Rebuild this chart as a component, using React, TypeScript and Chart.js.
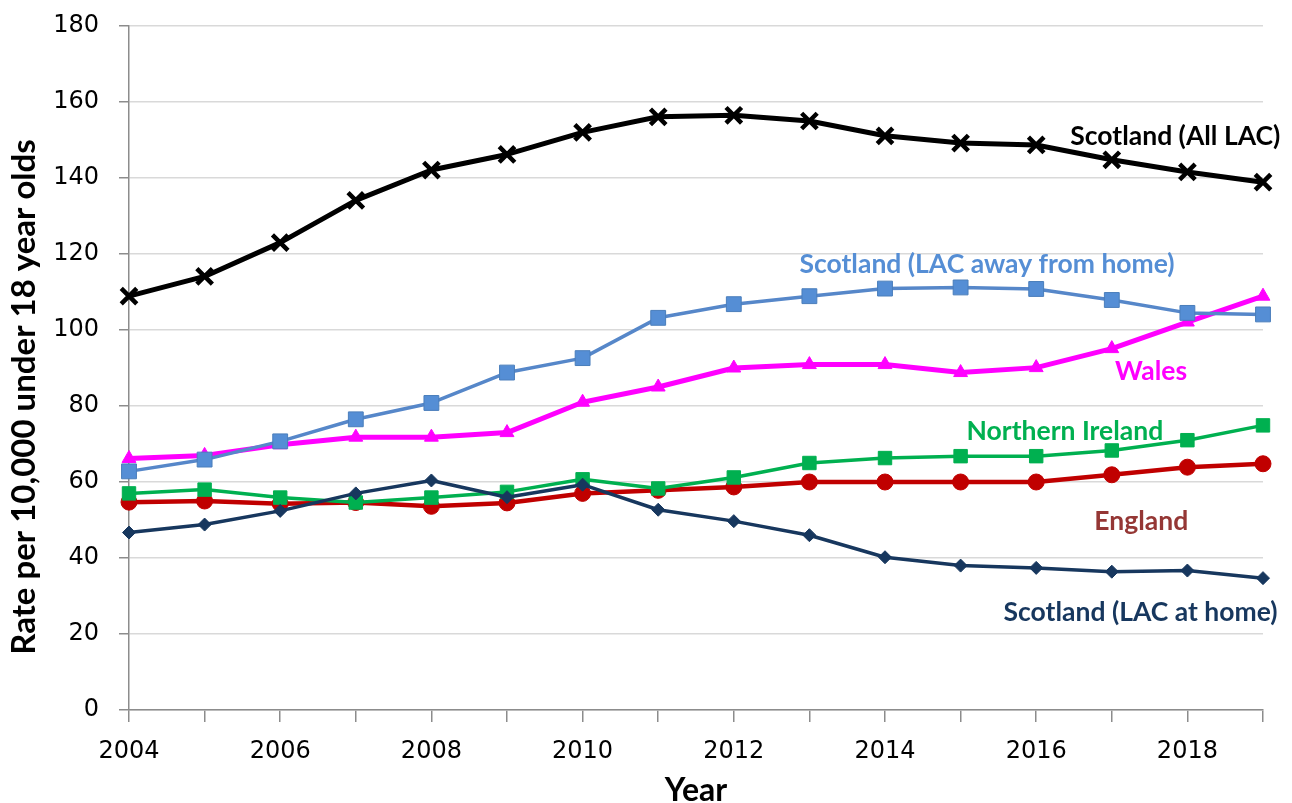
import { useEffect, useRef } from "react";
import { Chart, registerables } from "chart.js";

Chart.register(...registerables);

// Years on the horizontal axis
const years = [
  "2004", "2005", "2006", "2007", "2008", "2009", "2010", "2011",
  "2012", "2013", "2014", "2015", "2016", "2017", "2018", "2019",
];

// Rate per 10,000 under 18 year olds
const scotlandAll = [108.9, 114.1, 123.0, 134.1, 142.1, 146.2, 152.0, 156.1, 156.5, 155.0, 151.1, 149.2, 148.7, 144.8, 141.6, 138.9];
const scotlandAway = [62.8, 65.9, 70.7, 76.5, 80.8, 88.8, 92.6, 103.2, 106.8, 108.9, 110.9, 111.2, 110.8, 107.9, 104.5, 104.1];
const wales = [66.2, 67.0, 69.8, 71.8, 71.8, 73.0, 81.0, 85.0, 90.0, 90.9, 90.9, 88.8, 90.1, 95.1, 102.1, 108.9];
const northernIreland = [57.0, 58.0, 55.9, 54.6, 55.9, 57.4, 60.7, 58.3, 61.2, 65.0, 66.3, 66.8, 66.8, 68.3, 71.0, 74.9];
const england = [54.7, 55.0, 54.3, 54.6, 53.6, 54.5, 57.0, 57.8, 58.7, 60.0, 60.0, 60.0, 60.0, 61.9, 63.9, 64.8];
const scotlandHome = [46.7, 48.8, 52.4, 57.0, 60.4, 56.0, 59.3, 52.7, 49.7, 46.0, 40.2, 38.0, 37.4, 36.4, 36.7, 34.7];

// Y axis range
const yMin = 0;
const yMax = 180;
const yStep = 20;

// Series names written next to the lines: [year index, rate] of the text centre
const seriesNames = [
  { text: "Scotland (All LAC)", color: "#000000", at: [13.84, 151] },
  { text: "Scotland (LAC away from home)", color: "#558ED5", at: [11.35, 117.3] },
  { text: "Wales", color: "#FF00FF", at: [13.52, 89.0] },
  { text: "Northern Ireland", color: "#00B050", at: [12.38, 73.3] },
  { text: "England", color: "#953735", at: [13.39, 49.5] },
  { text: "Scotland (LAC at home)", color: "#17375E", at: [13.38, 25.8] },
];

const yTitle = "Rate per 10,000 under 18 year olds";
const xTitle = "Year";

const LABEL_FONT = "bold 26.5px Lato";
const TITLE_FONT = "bold 33px Lato";
const X_TITLE_FONT = "bold 32px Lato";
const TICK_FAMILY = "'DejaVu Sans'";
const TICK_SIZE = 24;
const AXIS_GREY = "#8C8C8C";

const textPlugin = {
  id: "seriesText",
  afterDatasetsDraw(chart: any) {
    const ctx = chart.ctx;
    const xs = chart.scales.x;
    const ys = chart.scales.y;
    ctx.save();
    ctx.font = LABEL_FONT;
    ctx.textAlign = "center";
    ctx.textBaseline = "middle";
    for (const n of seriesNames) {
      const px = xs.left + (xs.right - xs.left) * (n.at[0] / (years.length - 1));
      const py = ys.getPixelForValue(n.at[1]);
      ctx.fillStyle = n.color;
      ctx.fillText(n.text, px, py);
    }
    ctx.restore();
  },
  afterDraw(chart: any) {
    const ctx = chart.ctx;
    const area = chart.chartArea;
    ctx.save();
    ctx.fillStyle = "#000000";
    ctx.textAlign = "center";
    ctx.font = X_TITLE_FONT;
    ctx.textBaseline = "alphabetic";
    ctx.fillText(xTitle, (area.left + area.right) / 2, chart.height - 2);
    ctx.font = TITLE_FONT;
    ctx.translate(24, (area.top + area.bottom) / 2 + 29);
    ctx.rotate(-Math.PI / 2);
    ctx.textBaseline = "middle";
    ctx.fillText(yTitle, 0, 0);
    ctx.restore();
  },
};

function LacChart() {
  const ref = useRef<HTMLCanvasElement | null>(null);

  useEffect(() => {
    let chart: Chart | null = null;
    let cancelled = false;
    const fontsReady = Promise.all([
      document.fonts.load(LABEL_FONT),
      document.fonts.load(TITLE_FONT),
      document.fonts.load(`${TICK_SIZE}px ${TICK_FAMILY}`),
    ]).catch(() => null);

    fontsReady.then(() => {
      if (cancelled || !ref.current) return;
      const line = (
        label: string,
        data: number[],
        color: string,
        width: number,
        style: string,
        radius: number,
        fill: string,
        border: string,
        borderW: number
      ) => ({
        label,
        data,
        borderColor: color,
        borderWidth: width,
        backgroundColor: fill,
        pointStyle: style,
        pointRadius: radius,
        pointBackgroundColor: fill,
        pointBorderColor: border,
        pointBorderWidth: borderW,
        tension: 0,
        fill: false,
        borderJoinStyle: "round",
        borderCapStyle: "round",
      });

      chart = new Chart(ref.current, {
        type: "line",
        data: {
          labels: years,
          datasets: [
            line("Scotland (All LAC)", scotlandAll, "#000000", 5, "crossRot", 11, "#000000", "#000000", 4.5),
            line("Scotland (LAC at home)", scotlandHome, "#17375E", 3.5, "rectRot", 6.5, "#17375E", "#17375E", 1),
            line("Scotland (LAC away from home)", scotlandAway, "#5687C9", 3.5, "rect", 10.5, "#558ED5", "#4A7EBB", 1),
            line("Wales", wales, "#FF00FF", 5, "triangle", 8, "#FF00FF", "#FF00FF", 1),
            line("Northern Ireland", northernIreland, "#00B050", 3.5, "rect", 9.5, "#00B050", "#00B050", 1),
            line("England", england, "#C00000", 4.5, "circle", 8, "#C00000", "#C00000", 1),
          ] as any,
        },
        options: {
          animation: false,
          responsive: true,
          maintainAspectRatio: false,
          layout: { autoPadding: false, padding: { top: 26, right: 29, left: 0, bottom: 0 } },
          plugins: {
            legend: { display: false },
            tooltip: { enabled: false },
            title: { display: false },
          },
          scales: {
            x: {
              type: "category",
              offset: false,
              grid: {
                drawOnChartArea: false,
                drawTicks: true,
                tickLength: 12,
                tickColor: AXIS_GREY,
                lineWidth: 1.5,
              },
              border: { color: AXIS_GREY, width: 1.5 },
              ticks: {
                autoSkip: false,
                maxRotation: 0,
                minRotation: 0,
                padding: 15,
                color: "#000000",
                font: { family: TICK_FAMILY, size: TICK_SIZE },
                callback: (_v: any, i: number) => (i % 2 === 0 ? years[i] : ""),
              },
              afterFit: (s: any) => {
                s.height = 93;
              },
            },
            y: {
              min: yMin,
              max: yMax,
              grid: {
                color: "#D9D9D9",
                lineWidth: 1.5,
                drawTicks: true,
                tickLength: 10,
                tickColor: AXIS_GREY,
              },
              border: { color: AXIS_GREY, width: 1.5 },
              ticks: {
                stepSize: yStep,
                padding: 20,
                color: "#000000",
                font: { family: TICK_FAMILY, size: TICK_SIZE },
              },
              afterFit: (s: any) => {
                s.width = 129;
                // the plot area edges are set by the layout padding alone
                s.paddingTop = 0;
                s.paddingBottom = 0;
              },
            },
          },
        },
        plugins: [textPlugin],
      });
    });

    return () => {
      cancelled = true;
      if (chart) chart.destroy();
    };
  }, []);

  return (
    <div style={{ position: "fixed", left: 0, top: 0, width: 1292, height: 803, background: "#ffffff" }}>
      <canvas ref={ref} />
    </div>
  );
}

export default function App() {
  return <LacChart />;
}
